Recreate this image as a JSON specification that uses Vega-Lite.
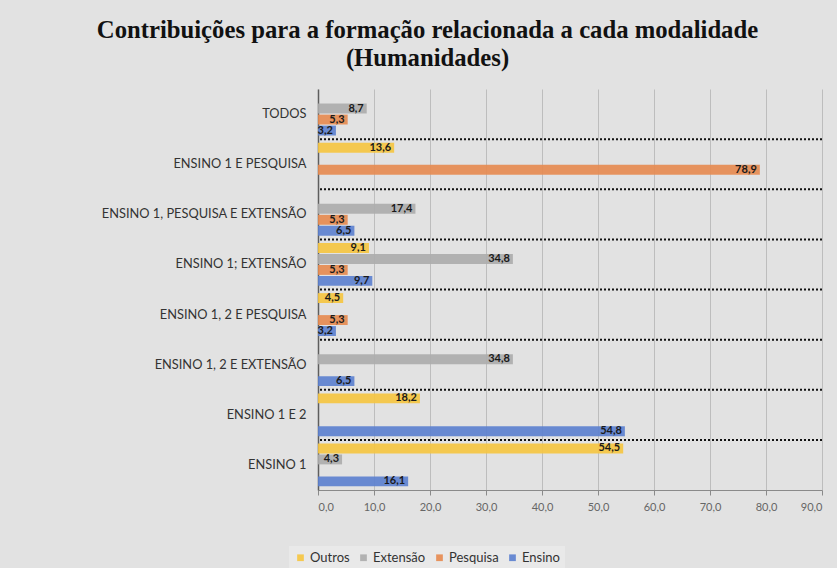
{
  "$schema": "https://vega.github.io/schema/vega-lite/v6.json",
  "width": 504,
  "height": 401,
  "padding": {"left": 8, "top": 18, "right": 15, "bottom": 5},
  "background": "#e2e2e2",
  "title": {
    "text": ["Contribuições para a formação relacionada a cada modalidade", "(Humanidades)"],
    "font": "Liberation Serif",
    "fontSize": 24.7,
    "fontWeight": "bold",
    "color": "#111111",
    "anchor": "middle",
    "frame": "bounds",
    "lineHeight": 28,
    "offset": 18,
    "dx": 12
  },
  "data": {
    "values": [
      {"categoria": "TODOS", "serie": "Extensão", "valor": 8.7},
      {"categoria": "TODOS", "serie": "Pesquisa", "valor": 5.3},
      {"categoria": "TODOS", "serie": "Ensino", "valor": 3.2},
      {"categoria": "ENSINO 1  E PESQUISA", "serie": "Outros", "valor": 13.6},
      {"categoria": "ENSINO 1  E PESQUISA", "serie": "Pesquisa", "valor": 78.9},
      {"categoria": "ENSINO 1, PESQUISA E EXTENSÃO", "serie": "Extensão", "valor": 17.4},
      {"categoria": "ENSINO 1, PESQUISA E EXTENSÃO", "serie": "Pesquisa", "valor": 5.3},
      {"categoria": "ENSINO 1, PESQUISA E EXTENSÃO", "serie": "Ensino", "valor": 6.5},
      {"categoria": "ENSINO 1; EXTENSÃO", "serie": "Outros", "valor": 9.1},
      {"categoria": "ENSINO 1; EXTENSÃO", "serie": "Extensão", "valor": 34.8},
      {"categoria": "ENSINO 1; EXTENSÃO", "serie": "Pesquisa", "valor": 5.3},
      {"categoria": "ENSINO 1; EXTENSÃO", "serie": "Ensino", "valor": 9.7},
      {"categoria": "ENSINO 1, 2 E PESQUISA", "serie": "Outros", "valor": 4.5},
      {"categoria": "ENSINO 1, 2 E PESQUISA", "serie": "Pesquisa", "valor": 5.3},
      {"categoria": "ENSINO 1, 2 E PESQUISA", "serie": "Ensino", "valor": 3.2},
      {"categoria": "ENSINO 1, 2 E EXTENSÃO", "serie": "Extensão", "valor": 34.8},
      {"categoria": "ENSINO 1, 2 E EXTENSÃO", "serie": "Ensino", "valor": 6.5},
      {"categoria": "ENSINO 1 E 2", "serie": "Outros", "valor": 18.2},
      {"categoria": "ENSINO 1 E 2", "serie": "Ensino", "valor": 54.8},
      {"categoria": "ENSINO 1", "serie": "Outros", "valor": 54.5},
      {"categoria": "ENSINO 1", "serie": "Extensão", "valor": 4.3},
      {"categoria": "ENSINO 1", "serie": "Ensino", "valor": 16.1}
    ]
  },
  "encoding": {
    "y": {
      "field": "categoria",
      "type": "nominal",
      "scale": {
        "domain": ["TODOS", "ENSINO 1  E PESQUISA", "ENSINO 1, PESQUISA E EXTENSÃO", "ENSINO 1; EXTENSÃO", "ENSINO 1, 2 E PESQUISA", "ENSINO 1, 2 E EXTENSÃO", "ENSINO 1 E 2", "ENSINO 1"],
        "paddingInner": 0,
        "paddingOuter": 0
      },
      "axis": {
        "title": null,
        "ticks": false,
        "domainColor": "#5e5e5e",
        "domainWidth": 1.5,
        "labelPadding": 12,
        "labelFont": "Lato",
        "labelFontSize": 12.8,
        "labelColor": "#333333",
        "labelLimit": 300,
        "minExtent": 310,
        "maxExtent": 310
      }
    }
  },
  "layer": [
    {
      "mark": {"type": "bar", "opacity": 0.9},
      "encoding": {
        "x": {
          "field": "valor",
          "type": "quantitative",
          "scale": {"domain": [0, 90], "nice": false},
          "axis": {
            "title": null,
            "values": [0, 10, 20, 30, 40, 50, 60, 70, 80, 90],
            "format": ".1f",
            "grid": true,
            "gridColor": "#bdbdbd",
            "domainColor": "#8a8a8a",
            "tickColor": "#8a8a8a",
            "tickSize": 5,
            "labelFont": "Lato",
            "labelFontSize": 11,
            "labelColor": "#666666",
            "labelPadding": 6
          }
        },
        "yOffset": {
          "field": "serie",
          "type": "nominal",
          "scale": {"domain": ["Outros", "Extensão", "Pesquisa", "Ensino"], "paddingInner": 0.1, "paddingOuter": 0.33}
        },
        "color": {
          "field": "serie",
          "type": "nominal",
          "scale": {
            "domain": ["Outros", "Extensão", "Pesquisa", "Ensino"],
            "range": ["#f6c53f", "#acacac", "#e78a4f", "#5b80cf"]
          },
          "legend": {
            "title": null,
            "orient": "none",
            "direction": "horizontal",
            "legendX": -29,
            "legendY": 457,
            "symbolType": "square",
            "symbolSize": 45,
            "symbolStrokeWidth": 0,
            "labelOffset": 3,
            "labelFont": "Lato",
            "labelFontSize": 13,
            "labelColor": "#333333",
            "columnPadding": 7,
            "fillColor": "#e9e9e9",
            "padding": 5
          }
        }
      }
    },
    {
      "mark": {"type": "text", "align": "right", "dx": -3, "fontWeight": "bold", "fontSize": 11, "font": "Lato", "color": "#1a1a1a"},
      "encoding": {
        "x": {"field": "valor", "type": "quantitative"},
        "yOffset": {"field": "serie", "type": "nominal"},
        "text": {"field": "valor", "type": "quantitative", "format": ".1f"}
      }
    },
    {
      "data": {
        "values": [
          {"categoria": "ENSINO 1  E PESQUISA"},
          {"categoria": "ENSINO 1, PESQUISA E EXTENSÃO"},
          {"categoria": "ENSINO 1; EXTENSÃO"},
          {"categoria": "ENSINO 1, 2 E PESQUISA"},
          {"categoria": "ENSINO 1, 2 E EXTENSÃO"},
          {"categoria": "ENSINO 1 E 2"},
          {"categoria": "ENSINO 1"}
        ]
      },
      "mark": {"type": "rule", "color": "#111111", "strokeWidth": 2, "strokeDash": [2, 2]},
      "encoding": {
        "y": {"field": "categoria", "type": "nominal", "bandPosition": 0}
      }
    }
  ],
  "config": {
    "view": {"stroke": null},
    "locale": {"number": {"decimal": ",", "thousands": ".", "grouping": [3], "currency": ["", " €"]}}
  }
}
